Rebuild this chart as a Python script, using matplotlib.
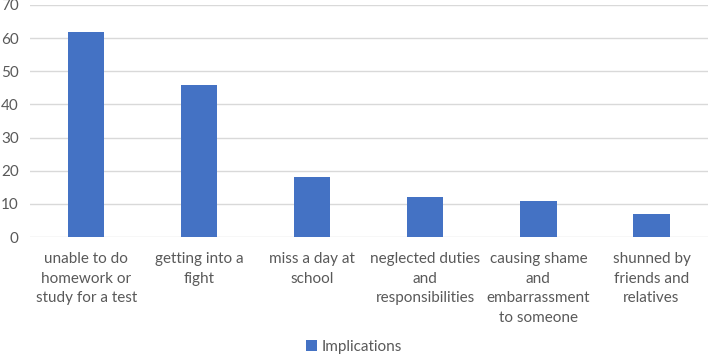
import matplotlib
matplotlib.use("Agg")
import matplotlib.pyplot as plt

categories = ["unable to do\nhomework or\nstudy for a test", "getting into a\nfight", "miss a day at\nschool",
              "neglected duties\nand\nresponsibilities", "causing shame\nand\nembarrassment\nto someone",
              "shunned by\nfriends and\nrelatives"]
values = [62, 46, 18, 12, 11, 7]
yticks = [0, 10, 20, 30, 40, 50, 60, 70]
series_name = "Implications"

plt.rcParams['font.family'] = ['Lato', 'DejaVu Sans']
fig = plt.figure(figsize=(7.08, 3.55), dpi=100)
ax = fig.add_axes([0.042, 0.332, 0.958, 0.654])
x = list(range(len(categories)))
ax.bar(x, values, width=0.32, color="#4472C4", label=series_name, zorder=3)
ax.set_xlim(-0.5, len(categories) - 0.5)
ax.set_ylim(0, 70)
ax.set_yticks(yticks)
ax.yaxis.grid(True, color="#d9d9d9", linewidth=1, zorder=0)
for s in ax.spines.values():
    s.set_visible(False)
ax.tick_params(axis='both', length=0, labelsize=11, colors="#595959")
ax.tick_params(axis='y', pad=8)
ax.set_xticks(x)
ax.set_xticklabels(categories, linespacing=1.5)
ax.tick_params(axis='x', pad=11)
fig.legend(loc='lower center', bbox_to_anchor=(0.5, -0.035), frameon=False, fontsize=11,
           handlelength=0.7, handleheight=0.7, handletextpad=0.3, labelcolor="#595959")
fig.savefig("out.png", dpi=100)
